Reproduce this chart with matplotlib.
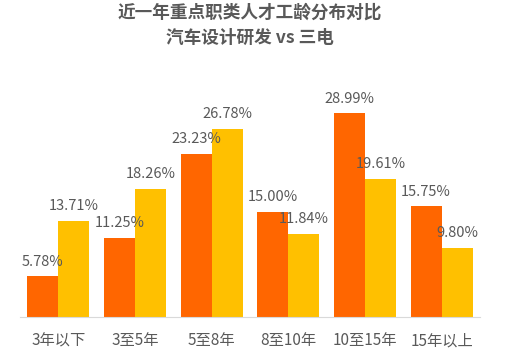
import matplotlib.pyplot as plt
import numpy as np

plt.rcParams['font.family'] = ['Noto Sans CJK SC', 'DejaVu Sans']

categories = ['3年以下', '3至5年', '5至8年', '8至10年', '10至15年', '15年以上']
auto_design = [5.78, 11.25, 23.23, 15.00, 28.99, 15.75]
three_elec = [13.71, 18.26, 26.78, 11.84, 19.61, 9.80]

text_color = '#595959'
c_orange = '#FF6600'
c_yellow = '#FFC000'

fig = plt.figure(figsize=(5.07, 3.62), dpi=100)
ax = fig.add_axes([20 / 507, 45 / 362, 460 / 507, (317 - 71) / 362])

x = np.arange(len(categories))
w = 0.405
b1 = ax.bar(x - w / 2, auto_design, w, color=c_orange)
b2 = ax.bar(x + w / 2, three_elec, w, color=c_yellow)

for bars, vals in ((b1, auto_design), (b2, three_elec)):
    for b, v in zip(bars, vals):
        ax.text(b.get_x() + b.get_width() / 2, v + 1.1, f'{v:.2f}%',
                ha='center', va='bottom', fontsize=10.5, color=text_color)

ax.set_xlim(-0.5, len(categories) - 0.5)
ax.set_ylim(0, 35)
ax.set_yticks([])
ax.set_xticks(x)
ax.set_xticklabels(categories, fontsize=11, color=text_color)
ax.tick_params(axis='x', length=0, pad=11)
for s in ('top', 'right', 'left'):
    ax.spines[s].set_visible(False)
ax.spines['bottom'].set_color('#D9D9D9')

fig.text(250 / 507, 1 - 13 / 362, '近一年重点职类人才工龄分布对比', ha='center', va='center',
         fontsize=12.7, fontweight='bold', color=text_color)
fig.text(250 / 507, 1 - 38 / 362, '汽车设计研发 vs 三电', ha='center', va='center',
         fontsize=12.7, fontweight='bold', color=text_color)

fig.savefig('out.png', dpi=100)
